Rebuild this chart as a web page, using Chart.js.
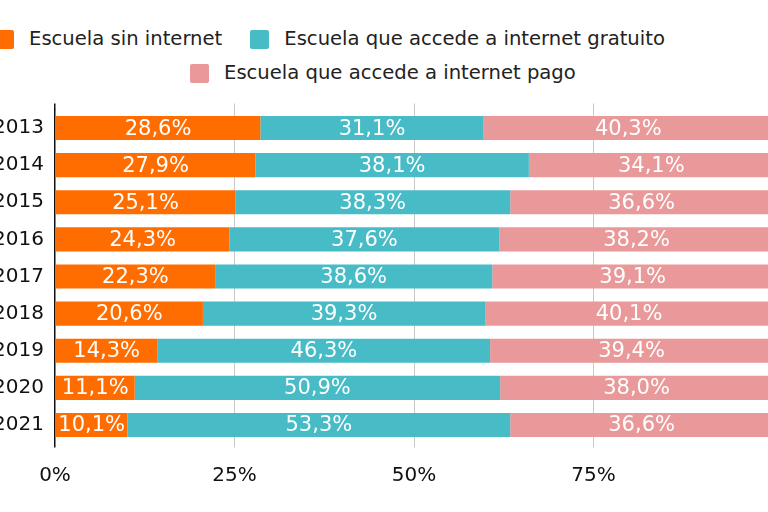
<!DOCTYPE html>
<html lang="es">
<head>
<meta charset="utf-8">
<title>Escuelas y acceso a internet</title>
<script src="https://cdn.jsdelivr.net/npm/chart.js@4/dist/chart.umd.min.js"></script>
<style>
  html, body { margin: 0; padding: 0; background: #fff; }
  body { width: 768px; height: 512px; overflow: hidden; position: relative; font-family: "DejaVu Sans", Verdana, sans-serif; }
  #wrap { position: absolute; left: -20px; top: 0; width: 809px; height: 512px; }
  .legend-row { position: absolute; display: flex; align-items: center; height: 20px; white-space: nowrap; }
  .legend-item { display: flex; align-items: center; margin-right: 28px; }
  .legend-box { width: 19px; height: 19px; border-radius: 2px; margin-right: 15px; }
  .legend-text { font-size: 19.6px; color: #222; line-height: 20px; }
</style>
</head>
<body>
<div id="legend"></div>
<div id="wrap"><canvas id="chart" width="809" height="512"></canvas></div>
<script>
/* Escuelas según acceso a internet, 2013-2021 (% del total) */

const YEARS = ['2013','2014','2015','2016','2017','2018','2019','2020','2021'];

const SERIES_NAMES = [
  'Escuela sin internet',
  'Escuela que accede a internet gratuito',
  'Escuela que accede a internet pago'
];

const SIN_INTERNET = [28.6, 27.9, 25.1, 24.3, 22.3, 20.6, 14.3, 11.1, 10.1];
const GRATUITO     = [31.1, 38.1, 38.3, 37.6, 38.6, 39.3, 46.3, 50.9, 53.3];
const PAGO         = [40.3, 34.1, 36.6, 38.2, 39.1, 40.1, 39.4, 38.0, 36.6];

const X_TICKS = [0, 25, 50, 75, 100];
const X_TICK_LABELS = ['0%', '25%', '50%', '75%', ''];

const COLORS = ['#ff6d00', '#47bbc6', '#e99999'];

const FONT = '"DejaVu Sans", Verdana, sans-serif';

/* legend (html, two rows like the original) */
const legendRows = [
  { items: [0, 1], left: -5, top: 29 },
  { items: [2],    left: 190, top: 63 },
];
const legendEl = document.getElementById('legend');
legendRows.forEach(r => {
  const row = document.createElement('div');
  row.className = 'legend-row';
  row.style.left = r.left + 'px';
  row.style.top = r.top + 'px';
  row.innerHTML = r.items.map(i => `<div class="legend-item">
      <div class="legend-box" style="background:${COLORS[i]}"></div>
      <span class="legend-text">${SERIES_NAMES[i]}</span>
    </div>`).join('');
  legendEl.appendChild(row);
});

function fmt(v) {
  return v.toFixed(1).replace('.', ',') + '%';
}

const barLabels = {
  id: 'barLabels',
  afterDatasetsDraw(chart) {
    const ctx = chart.ctx;
    ctx.save();
    ctx.font = `21px ${FONT}`;
    ctx.fillStyle = '#fff';
    ctx.textAlign = 'center';
    ctx.textBaseline = 'middle';
    chart.data.datasets.forEach((ds, di) => {
      const meta = chart.getDatasetMeta(di);
      meta.data.forEach((bar, i) => {
        const cx = (bar.x + bar.base) / 2;
        ctx.fillText(fmt(ds.data[i]), cx, bar.y + 1);
      });
    });
    ctx.restore();
  }
};

const gridColor = c => (c.tick && c.tick.value === 0) ? '#111' : '#c9c9c9';
const gridWidth = c => (c.tick && c.tick.value === 0) ? 1.5 : 1;
const setTicks = axis => { axis.ticks = X_TICKS.map(v => ({ value: v })); };

new Chart(document.getElementById('chart'), {
  type: 'bar',
  data: {
    labels: YEARS,
    datasets: [SIN_INTERNET, GRATUITO, PAGO].map((d, i) => ({
      label: SERIES_NAMES[i],
      data: d,
      backgroundColor: COLORS[i],
      borderWidth: 0,
      barPercentage: 0.65,
      categoryPercentage: 1,
    })),
  },
  options: {
    indexAxis: 'y',
    responsive: false,
    animation: false,
    devicePixelRatio: 1,
    layout: { padding: { top: 103.5, right: 8, left: 0, bottom: 0 } },
    plugins: {
      legend: { display: false },
      tooltip: { enabled: false },
    },
    scales: {
      x: {
        stacked: true,
        min: 0,
        max: 100,
        afterBuildTicks: setTicks,
        afterFit: s => { s.height = 68.5; },
        border: { display: false },
        grid: { color: gridColor, lineWidth: gridWidth, tickLength: 4 },
        ticks: {
          padding: 16,
          maxRotation: 0,
          autoSkip: false,
          color: '#111',
          font: { family: FONT, size: 20 },
          callback: (v, i) => X_TICK_LABELS[i],
        },
      },
      x2: {
        position: 'top',
        min: 0,
        max: 100,
        afterBuildTicks: setTicks,
        afterFit: s => { s.height = 6; },
        border: { display: false },
        grid: { color: gridColor, lineWidth: gridWidth, drawOnChartArea: false, tickLength: 6 },
        ticks: { display: false },
      },
      y: {
        stacked: true,
        afterFit: s => { s.width = 75; },
        border: { display: false },
        grid: { display: false, drawTicks: false },
        ticks: {
          padding: 11,
          color: '#111',
          font: { family: FONT, size: 20 },
        },
      },
    },
  },
  plugins: [barLabels],
});
</script>
</body>
</html>
